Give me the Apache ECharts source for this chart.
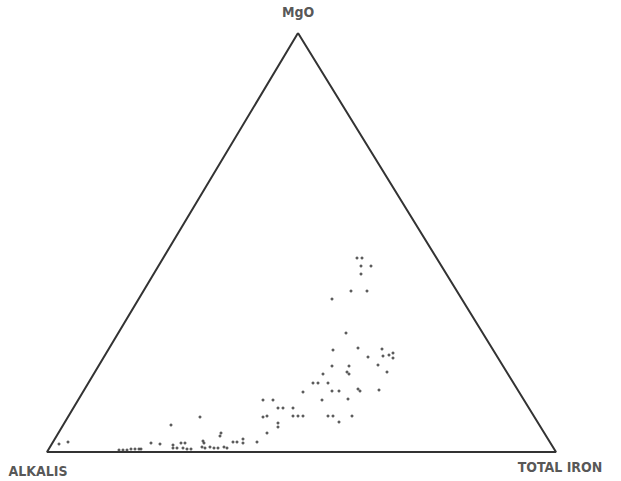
<!DOCTYPE html>
<html>
<head>
<meta charset="utf-8">
<script src="https://cdn.jsdelivr.net/npm/echarts@6/dist/echarts.min.js"></script>
<style>html,body{margin:0;padding:0;background:#fff}#c{width:621px;height:481px}</style>
</head>
<body>
<div id="c"></div>
<script>
// Triangle vertices (plot coordinates, y downward): MgO apex, ALKALIS, TOTAL IRON
const vertexNames = ["MgO", "ALKALIS", "TOTAL IRON"];
const vertices = [[298, 33], [47, 452], [556, 452]];

// Sample points (plot coordinates)
const samples = [
  [357,258],[362,258],[361,266],[371,266],[361,274],[351,291],[367,291],[332,299],
  [346,333],[333,350],[358,348],[368,357],[382,349],[383,356],[389,355],[393,353],[393,358],
  [378,365],[387,372],[332,366],[349,366],[347,372],[349,374],[323,374],
  [313,383],[318,383],[328,383],[303,392],[332,391],[339,391],[358,389],[360,391],[379,390],
  [322,400],[348,399],[293,408],[293,416],[298,416],[303,416],[328,416],[333,416],[339,422],[352,416],
  [263,400],[273,400],[278,408],[283,408],[263,417],[267,416],[278,423],[278,427],[267,433],
  [200,417],[171,425],[221,433],[220,436],[203,441],[204,443],
  [233,442],[237,442],[243,439],[243,443],[257,442],
  [181,443],[185,443],[151,443],[160,444],[173,445],
  [173,448],[177,448],[183,448],[187,449],[191,449],
  [202,447],[205,448],[210,447],[214,448],[218,448],[224,447],[227,448],
  [119,450],[123,450],[127,450],[131,449],[135,449],[139,449],[141,449],
  [59,444],[68,442]
];

const chart = echarts.init(document.getElementById('c'), null, {renderer: 'svg'});
const labelFont = {fontFamily: 'DejaVu Sans Condensed', fontWeight: 'bold', fontSize: 14, color: '#2a2a2a'};
chart.setOption({
  animation: false,
  backgroundColor: '#fff',
  grid: {left: 0, top: 0, width: 621, height: 481},
  xAxis: {type: 'value', min: 0, max: 621, show: false},
  yAxis: {type: 'value', min: 0, max: 481, inverse: true, show: false},
  series: [
    {
      type: 'line',
      data: vertices.concat([vertices[0]]),
      symbol: 'none',
      lineStyle: {color: '#333', width: 2},
      silent: true
    },
    {
      type: 'scatter',
      data: samples,
      symbol: 'circle',
      symbolSize: 3,
      itemStyle: {color: '#333'},
      silent: true
    },
    {
      type: 'scatter',
      symbolSize: 0,
      silent: true,
      data: vertices.map((v, i) => ({
        value: v,
        name: vertexNames[i],
        label: {
          show: true,
          formatter: '{b}',
          position: 'inside',
          offset: [[0, -21], [-9, 19], [4, 15]][i],
          ...labelFont
        }
      }))
    }
  ]
});
</script>
</body>
</html>
